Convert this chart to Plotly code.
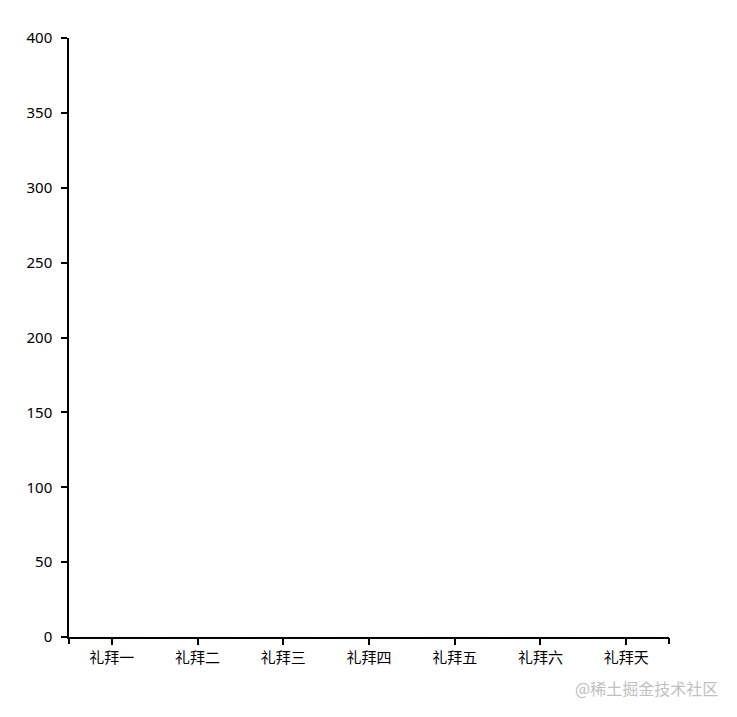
import plotly.graph_objects as go

# weekday categories and their values (no bars are visible in the chart)
days = ["礼拜一", "礼拜二", "礼拜三", "礼拜四", "礼拜五", "礼拜六", "礼拜天"]
values = [0, 0, 0, 0, 0, 0, 0]
y_ticks = [0, 50, 100, 150, 200, 250, 300, 350, 400]

cjk = "Noto Sans CJK SC, Noto Sans, sans-serif"

fig = go.Figure()
fig.add_trace(go.Bar(
    x=list(range(len(days))),
    y=values,
    marker_color="steelblue",
    width=0.8,
    showlegend=False,
))
# empty trace so the overlay axis with the outer end ticks gets drawn
fig.add_trace(go.Scatter(x=[], y=[], xaxis="x2", showlegend=False))

axis_style = dict(
    ticks="outside",
    ticklen=6,
    tickcolor="black",
    tickwidth=1.5,
    showgrid=False,
    zeroline=False,
    fixedrange=True,
)

fig.update_layout(
    width=721,
    height=701,
    margin=dict(l=61, r=60, t=30, b=72),
    plot_bgcolor="white",
    paper_bgcolor="white",
    font=dict(family=cjk, size=15, color="black"),
    xaxis=dict(
        range=[-0.5, len(days) - 0.5],
        tickvals=list(range(len(days))),
        ticktext=days,
        tickfont=dict(family=cjk, size=15),
        showline=True,
        linecolor="black",
        linewidth=1.5,
        **axis_style,
    ),
    xaxis2=dict(
        overlaying="x",
        matches="x",
        side="bottom",
        tickvals=[-0.5, len(days) - 0.5],
        showticklabels=False,
        **axis_style,
    ),
    yaxis=dict(
        range=[0, 400],
        tickvals=y_ticks,
        tickfont=dict(family="Noto Sans, sans-serif", size=15),
        ticklabelstandoff=6,
        showline=True,
        linecolor="black",
        linewidth=1.5,
        **axis_style,
    ),
    annotations=[dict(
        text="@稀土掘金技术社区",
        xref="paper", yref="paper",
        x=1.085, y=-0.085,
        xanchor="right", yanchor="middle",
        showarrow=False,
        font=dict(family=cjk, size=16, color="#c0c0c0"),
    )],
)

fig.write_html("out.html")
